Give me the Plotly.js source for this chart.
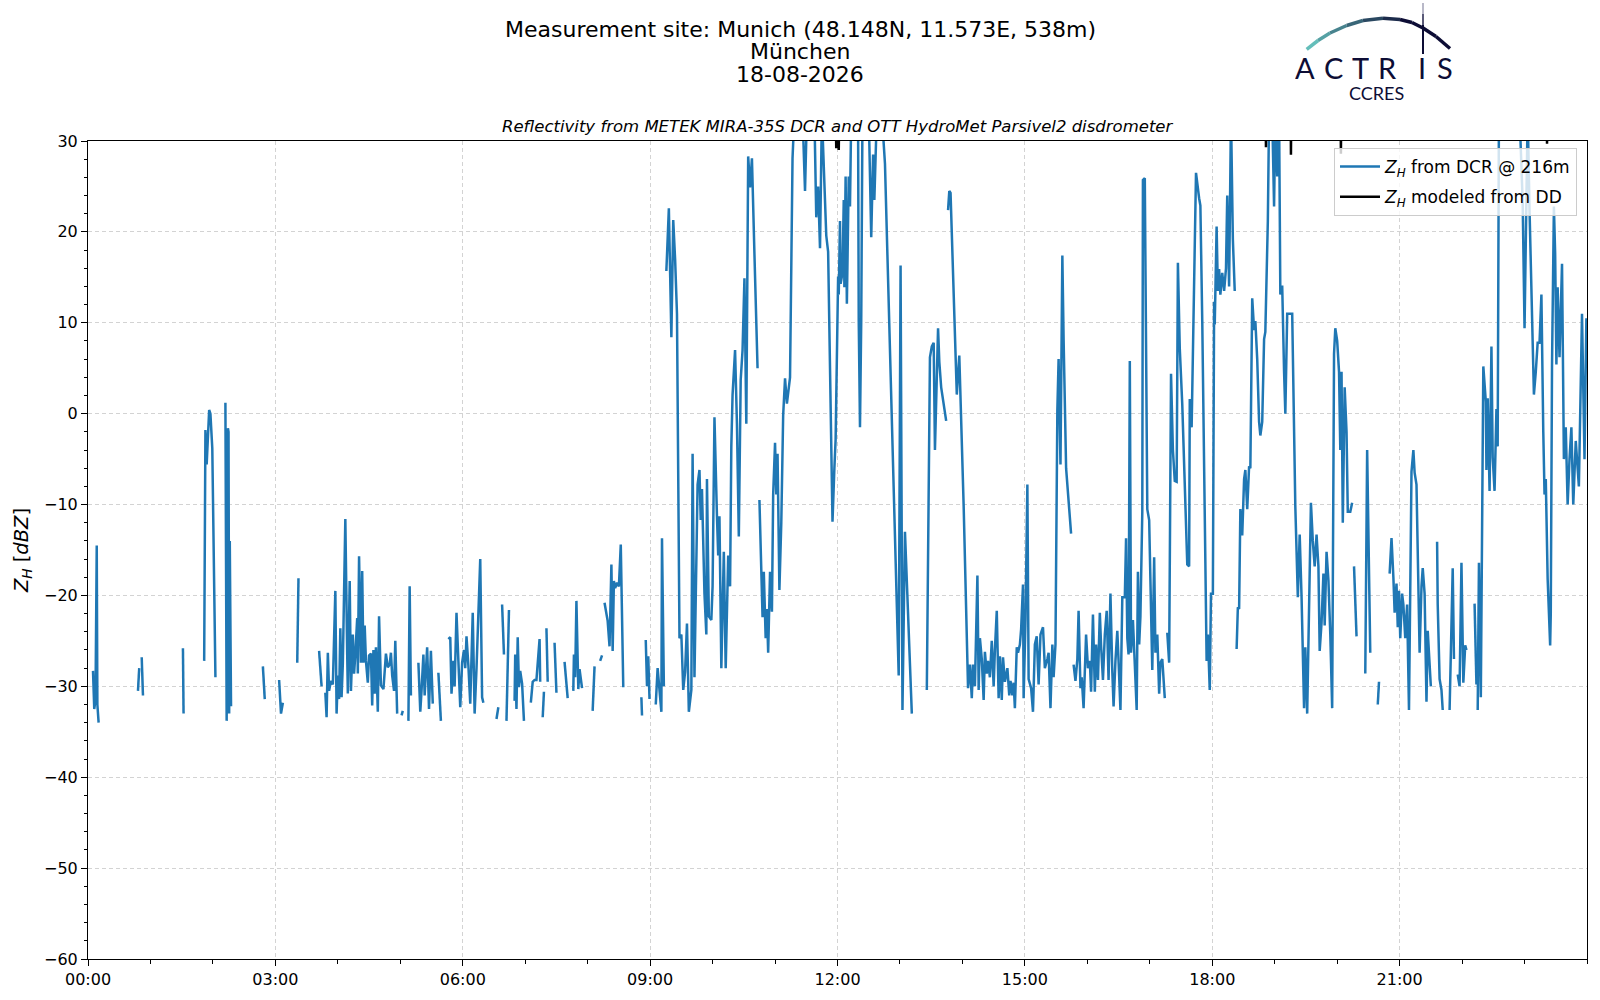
<!DOCTYPE html>
<html><head><meta charset="utf-8">
<script src="https://cdn.plot.ly/plotly-3.0.1.min.js"></script>
<style>html,body{margin:0;padding:0;background:#fff}#chart{width:1600px;height:1000px}</style>
</head><body><div id="chart"></div>
<script>
// ---- data (time in decimal hours of 18-08-2026, Z_H in dBZ; null = gap) ----
const hours = [
0.08,0.10,0.12,0.14,0.15,0.17,null,
0.80,0.82,null,0.86,0.88,null,1.52,1.53,null,
1.86,1.88,1.90,1.92,1.94,1.96,1.99,2.04,null,
2.20,2.22,2.24,2.25,2.26,2.27,2.29,null,
2.80,2.83,null,3.06,3.09,3.12,null,3.35,3.37,null,3.70,3.74,null,
3.80,3.82,3.84,3.86,3.89,3.92,3.96,3.98,4.00,4.02,4.04,4.06,4.08,4.12,4.15,4.16,4.19,4.21,4.24,4.26,4.28,4.31,4.32,4.34,4.37,4.39,4.41,4.43,4.45,4.48,4.50,4.53,4.55,4.57,4.59,4.61,4.64,4.66,4.69,4.73,
4.77,4.80,4.83,4.85,4.87,4.90,4.92,4.95,null,
5.02,5.04,null,5.13,5.15,5.17,null,
5.29,5.32,5.34,5.37,5.39,5.43,5.46,5.49,5.52,null,5.61,5.65,null,
5.77,5.80,5.82,5.85,5.87,5.90,5.93,5.96,5.99,6.02,6.04,6.06,6.09,6.12,6.16,6.19,6.22,6.28,6.31,6.33,null,
6.54,6.57,null,6.63,6.66,null,6.70,6.74,null,
6.83,6.84,6.86,6.88,6.90,6.92,6.95,6.98,null,
7.09,7.12,7.15,7.18,7.23,7.24,null,7.28,7.30,null,7.34,7.36,null,7.47,7.50,null,7.63,7.68,null,
7.77,7.78,7.80,7.82,7.85,7.87,7.91,null,8.08,8.11,null,8.20,8.23,null,
8.27,8.32,8.35,8.38,8.40,8.42,8.44,8.47,8.50,8.53,8.57,null,
8.86,8.87,null,8.93,8.95,8.97,8.99,null,9.09,9.12,9.18,9.19,9.22,null,
9.26,9.30,9.34,9.37,9.40,9.43,9.47,9.50,9.53,9.56,9.59,9.62,9.66,9.68,9.71,9.74,9.76,9.79,9.81,9.83,9.87,9.90,9.91,9.94,9.98,10.00,10.03,10.07,10.09,10.11,10.14,10.18,10.21,
10.25,10.28,10.30,10.32,10.36,10.39,10.42,10.45,10.48,10.51,10.54,10.57,10.60,10.63,10.67,10.72,null,
10.75,10.78,10.80,10.82,10.85,10.87,10.89,10.92,10.95,10.97,11.00,11.02,11.04,11.07,11.10,11.13,11.16,11.19,11.24,11.28,11.31,11.36,11.40,11.44,11.48,11.51,11.57,11.63,11.66,11.69,11.72,11.75,11.79,11.82,11.85,
11.92,11.95,11.97,12.01,12.02,12.04,12.05,12.08,12.10,12.11,12.13,12.15,12.18,12.20,12.22,12.28,12.33,12.34,12.36,12.38,12.40,12.44,12.50,12.54,12.57,12.59,12.63,12.70,12.76,12.98,13.01,13.04,13.08,13.19,null,
13.43,13.48,13.51,13.54,13.56,13.61,13.63,13.66,13.74,null,
13.77,13.79,13.81,13.84,13.87,13.91,13.95,13.99,14.02,14.09,14.12,14.15,14.17,14.20,14.24,14.26,14.28,14.31,14.34,14.36,14.39,14.41,14.44,14.47,14.50,14.52,14.55,14.58,14.60,14.63,14.65,14.68,14.72,14.75,
14.77,14.80,14.82,14.84,14.87,14.89,14.92,14.94,14.97,14.98,15.01,15.04,15.06,15.10,15.13,15.16,15.19,15.22,15.25,15.29,15.32,15.36,15.38,15.41,15.44,15.46,15.49,15.52,15.54,15.57,15.60,15.62,15.66,15.74,null,
15.78,15.81,15.84,15.86,15.89,15.91,15.94,15.98,16.01,16.04,16.06,16.09,16.12,16.14,16.17,16.20,16.22,16.25,16.28,16.31,16.34,16.37,16.40,16.42,16.45,16.48,16.50,16.53,16.56,16.60,16.62,16.64,16.66,16.68,16.70,16.73,16.76,16.79,16.81,16.83,16.85,16.88,16.89,16.92,16.96,16.99,17.04,17.07,17.09,17.12,17.15,17.17,17.20,17.24,null,
17.28,17.31,17.34,17.37,17.40,17.43,17.45,17.48,17.52,17.56,17.60,17.63,17.64,17.67,17.71,17.73,17.74,17.79,17.81,17.84,17.88,17.91,17.93,17.96,17.98,18.01,18.03,18.04,18.07,18.09,18.11,18.13,18.16,18.19,18.22,18.24,18.27,18.30,18.33,18.36,null,
18.39,18.41,18.43,18.45,18.48,18.51,18.53,18.56,18.59,18.61,18.64,18.67,18.69,18.72,18.75,18.77,18.80,18.83,18.85,18.89,18.91,18.96,18.99,19.01,19.04,19.07,19.09,19.12,19.15,19.17,19.20,19.25,19.28,19.33,19.37,19.40,19.43,19.47,19.49,19.52,19.55,19.58,19.61,19.64,19.67,19.70,19.72,19.75,19.78,19.80,19.83,19.86,19.89,19.92,19.95,19.97,20.00,20.03,20.05,20.07,20.09,20.12,20.15,20.17,20.21,20.24,null,
20.27,20.31,null,20.45,20.48,20.53,null,20.65,20.67,null,
20.84,20.87,20.90,20.92,20.95,20.97,20.99,21.01,21.04,21.06,21.09,21.12,21.15,21.19,21.22,21.24,21.27,21.29,21.32,21.35,21.37,21.40,21.43,21.45,21.48,21.50,null,
21.60,21.61,21.64,21.67,21.69,null,21.80,21.85,21.87,null,21.93,21.96,21.99,22.02,22.05,22.07,null,22.20,22.23,null,
22.25,22.27,22.30,22.32,22.34,22.38,22.39,22.41,22.44,22.47,22.49,22.52,22.55,22.57,22.59,22.65,22.72,22.80,22.88,22.92,22.97,23.00,23.03,23.05,23.08,23.12,23.15,23.18,23.21,23.24,23.27,23.30,23.32,23.34,23.37,23.41,23.42,23.44,23.47,23.49,23.51,23.53,23.56,23.60,23.63,23.66,23.69,23.72,23.75,23.78,23.82,23.87,23.92,23.96,23.99
];
const zhDcr = [
-28.3,-32.5,-31.5,-14.5,-32,-34,null,
-30.5,-28,null,-26.8,-31,null,-25.8,-33,null,
-27.2,-1.8,-5.6,-1.8,0.4,0,-3.8,-29,null,
1.2,-33.8,-1.6,-2,-33,-14,-32.2,null,
-27.8,-31.4,null,-29.3,-33,-31.8,null,-27.4,-18.1,null,-26.1,-30,null,
-30.7,-33.4,-26.3,-30.5,-29.4,-29.8,-19.5,-33,-28.8,-31.4,-23.6,-31.2,-27.5,-11.6,-26.5,-30.8,-18.4,-30.5,-24.3,-28.6,-26.5,-22.5,-28.6,-15.7,-27.4,-17.3,-27.4,-23.3,-27.2,-29.6,-26.6,-26.4,-32.1,-26,-30.8,-25.7,-32.8,-22.3,-29.9,-30.3,
-26.4,-27.9,-27.6,-26.3,-28.8,-30.5,-25,-33,null,
-33.2,-32.7,null,-33.8,-19,-31,null,
-27.4,-32.8,-30.5,-26.5,-31,-25.7,-32.5,-26.1,-31.9,null,-28.5,-33.8,null,
-24.8,-24.6,-30.8,-27.2,-30,-21.9,-27.2,-32.3,-27.4,-26,-28,-24.5,-27.7,-31.9,-21.9,-33,-28.1,-16,-31.2,-31.8,null,
-33.6,-32.3,null,-21,-26.5,null,-33.8,-21.6,null,
-31.6,-26.5,-32.5,-24.6,-30.1,-28.3,-29.7,-33.8,null,
-31.8,-29.5,-29.3,-29.3,-24.8,-29.5,null,-33.4,-30.6,null,-23.6,-29.5,null,-25.2,-30.7,null,-27.3,-31.3,null,
-30.5,-26.5,-29,-20.6,-30.3,-28.1,-30.2,null,-32.7,-27.8,null,-27.2,-26.6,null,
-20.8,-22.8,-25.6,-16.6,-26.1,-18.4,-19.2,-18.6,-19,-14.4,-30.1,null,
-31.2,-33.2,null,-24.9,-30,-26.7,-31.4,null,-32,-28,-32.8,-13.7,-30,null,
15.7,22.6,8.4,21.3,17,11,-24.7,-24.3,-30.4,-28.4,-23.1,-32.8,-30.4,-4.4,-29,-14.3,-7.8,-6.2,-11.7,-8.3,-19.8,-24.3,-7.2,-22.3,-22.7,-19,-0.4,-11.3,-15.6,-11.3,-28,-15.2,-28,
-15.6,-19,-3.6,2.1,7,-1.1,-13.5,3.7,7,14.9,-1.1,28.3,24.9,28.1,17.6,5,null,
-9.5,-17.4,-22.4,-17.4,-24.7,-21.5,-26.3,-17.4,-21.8,-8.9,-3.2,-8.9,-4.4,-19.4,-12,-0.2,3.9,1.1,4,28.1,33,33,31,33,24.5,33,34,33,21.6,25,18.2,33,25.3,19.6,17.8,
-11.9,-6,-2.8,15.1,13.1,21.2,14.3,15.5,23.5,13.9,26.1,12.1,26.1,22.8,33,34,31,10.2,-1.5,10.2,33,33,33,19.4,28.5,23.5,33,34,27.5,-28.8,16.3,-32.6,-13,-33,null,
-30.4,6.2,7.4,7.8,-4,9.4,5.7,2.9,-0.8,null,
22.4,24.5,24.3,18,10.2,2.1,6.4,-2,-10.2,-30.2,-27.6,-31.3,-27.6,-30,-17.8,-30.4,-24.7,-27,-31.5,-26.2,-28.6,-27.2,-29,-25,-30,-26,-21.7,-31.3,-26.7,-31.5,-26.8,-29.5,-28,-31,
-29.4,-31,-29.6,-32.4,-25.7,-26.3,-25.4,-23.7,-18.8,-31.3,-22.7,-7.8,-29.2,-30.2,-32.8,-25.4,-24.5,-29.8,-24.3,-23.5,-28,-27,-26.3,-32.4,-25.4,-29,-25.4,0.4,6,-5.6,17.4,8.2,-6,-13.2,null,
-27.6,-29.4,-27,-21.7,-30.2,-29,-32.4,-24.3,-28,-27.2,-30.6,-22.1,-30.6,-25.4,-29.3,-21.9,-25.5,-29.3,-24.3,-21.7,-29.3,-19.8,-28.4,-32.2,-27.2,-23.9,-27.2,-32.6,-20.2,-20.2,-13.7,-24.7,-26.5,5.8,-26.3,-22.7,-27.6,-32.6,-17.4,-25.4,-22.3,-10.8,25.7,25.9,-10.5,-11.7,-28.2,-15.8,-26.3,-24.3,-30.8,-27.4,-27,-31.3,null,
-24.1,-27.4,4.4,-4,-7.4,-7.5,16.6,7.2,1,-9,-16.6,-16.8,1.6,-1.5,14,23.5,26.5,23.7,22.9,10.2,-10.2,-27.2,-24.3,-30.4,-19.8,-19.8,12.3,9.8,20.6,13.5,15.9,13.1,15.5,13.5,16,24,14,33,19.2,13.5,null,
-25.9,-21.3,-21.5,-10.5,-13.4,-7.2,-6.2,-10.5,-5.8,-6,12.7,9.2,10.2,6,-0.9,-2.4,-0.9,8.2,9,21.2,33,33,22.8,33,26.1,33,13.1,14.1,4.6,0,11,11,11,-10.2,-20.2,-13.3,-20.2,-32.4,-25.7,-33,-21.5,-9.8,-14,-16.8,-13.3,-16.8,-26.1,-23,-17.6,-23.3,-15.2,-18.3,-24.3,-32.4,6.6,9.4,8,4.6,-4,4.6,-12,2.9,-2,-10.8,-10.8,-9.8,null,
-16.8,-24.5,null,-28.6,-4,-26.3,null,-32,-29.5,null,
-17.6,-13.7,-18,-21.9,-18.7,-23.5,-19.5,-24.7,-19.8,-21,-24.7,-21,-32.6,-6.4,-4,-6.5,-7.8,-16.2,-26.3,-19,-17,-19.8,-31.7,-23.9,-28,-30,null,
-14.1,-21,-29.2,-30.4,-32.6,null,-32.6,-17,-27,null,-28.7,-30,-16.4,-29.6,-25.5,-26,null,-20.9,-29.8,null,
-32.6,-16.4,-31.2,-16,5.2,1.3,-6.2,1.7,-8.5,7.4,-4.8,-8.5,0.5,-3.6,33,34,33,34,33,33,23.3,9.4,25,33,22.4,12.3,2.1,4.6,7.8,7.8,13.1,-2,-8.9,-7.2,-18.2,-25.5,-22,5.4,22.8,17.6,5.4,13.9,6.2,16.5,-5,-1.5,-10,-5,-1.5,-10,-3,-8,11,-5,10.5
];
// modeled Z_H from disdrometer: almost always above the 30 dBZ top of the axis
const ddHours = [11.90,11.97,11.98,11.99,12.01,12.02,12.03,12.10,null,18.80,18.855,18.86,18.865,19.255,19.26,19.265,20.055,20.06,20.065,20.20,null,23.30,23.355,23.36,23.365,23.40];
const zhDd    = [36,34,29.2,34,34,29,34,36,null,36,34,29.3,34,34,28.5,34,34,28.6,34,36,null,36,34,29.7,34,36];

const xTickVals = [0,3,6,9,12,15,18,21];
const xTickText = ["00:00","03:00","06:00","09:00","12:00","15:00","18:00","21:00"];
const titleLines = ["Measurement site: Munich (48.148N, 11.573E, 538m)","München","18-08-2026"];
const subTitle = "Reflectivity from METEK MIRA-35S DCR and OTT HydroMet Parsivel2 disdrometer";

// ---- layout helpers (page pixels -> paper coords) ----
const PL=88, PR=1587, PT=141, PB=959;
const px = x => (x-PL)/(PR-PL);
const py = y => (PB-y)/(PB-PT);
const FONT = "DejaVu Sans";

const traces = [
  {x: hours, y: zhDcr, type:'scatter', mode:'lines', connectgaps:false, legendgroup:'dcr',
   name:'<i>Z</i><sub><i>H</i></sub> from DCR @ 216m', line:{color:'#1f77b4', width:2.5}},
  {x: ddHours, y: zhDd, type:'scatter', mode:'lines', connectgaps:false, legendgroup:'dd',
   name:'<i>Z</i><sub><i>H</i></sub> modeled from DD', line:{color:'#000000', width:2.5}}
];

const annotations = [];
[29,51,74].forEach((yy,i)=>annotations.push({xref:'paper',yref:'paper',x:px(800),y:py(yy),xanchor:'center',yanchor:'middle',
  showarrow:false,text:titleLines[i],font:{family:FONT,size:22,color:'#000'}}));
annotations.push({xref:'paper',yref:'paper',x:0.5,y:py(126),xanchor:'center',yanchor:'middle',showarrow:false,
  text:'<i>'+subTitle+'</i>',font:{family:FONT,size:16.5,color:'#000'}});
// logo text
const logoLetters = ['A','C','T','R','I','S'];
const logoX = [1305,1333,1360,1387,1422,1445];
logoLetters.forEach((l,i)=>annotations.push({xref:'paper',yref:'paper',x:px(logoX[i]),y:py(67),xanchor:'center',yanchor:'middle',
  height:24, showarrow:false,text:l,font:{family:'Lato',size:29,color:'#0d0d35'}}));
annotations.push({xref:'paper',yref:'paper',x:px(1376),y:py(93),xanchor:'center',yanchor:'middle',height:18,showarrow:false,
  text:'CCRES',font:{family:'Lato',size:18,color:'#0d0d35'}});

// logo arc (gradient approximated by segments)
const arcPts = [[1306.7,49.3],[1318,40.5],[1330,33],[1346.7,25.5],[1363,20.5],[1383,18.3],[1400,19.5],[1412,22.5],[1423,28],[1436,36.5],[1450,48.5]];
const c0=[100,190,186], c1=[13,13,53];
const shapes = [];
for(let i=0;i<arcPts.length-1;i++){
  const t = Math.min(1, i/6);
  const c = c0.map((v,k)=>Math.round(v+(c1[k]-v)*t));
  shapes.push({type:'line',xref:'paper',yref:'paper',x0:px(arcPts[i][0]),y0:py(arcPts[i][1]),x1:px(arcPts[i+1][0]),y1:py(arcPts[i+1][1]),
    line:{color:`rgb(${c[0]},${c[1]},${c[2]})`,width:3.5}});
}
const vSeg = [[3,14,'#b8b8c8'],[14,25,'#5a5a78'],[25,54,'#0d0d35']];
vSeg.forEach(s=>shapes.push({type:'line',xref:'paper',yref:'paper',x0:px(1423),y0:py(s[0]),x1:px(1423),y1:py(s[1]),line:{color:s[2],width:2}}));

const axisCommon = {
  showline:true, linecolor:'#000', linewidth:1, mirror:true,
  ticks:'outside', ticklen:6, tickwidth:1, tickcolor:'#000',
  showgrid:true, gridcolor:'#d3d3d3', griddash:'4px,3px', gridwidth:1,
  zeroline:false, tickfont:{family:FONT,size:16,color:'#000'}
};

const layout = {
  width:1600, height:1000,
  margin:{l:PL, r:1600-PR, t:PT, b:1000-PB, pad:0},
  paper_bgcolor:'#fff', plot_bgcolor:'#fff',
  showlegend:true,
  legend:{x:px(1577),y:py(148),xanchor:'right',yanchor:'top',bgcolor:'rgba(255,255,255,0.8)',
          bordercolor:'#cccccc',borderwidth:1,font:{family:FONT,size:17,color:'#000'},
          itemwidth:40, tracegroupgap:5},
  xaxis: Object.assign({}, axisCommon, {range:[0,24], tickmode:'array', tickvals:xTickVals, ticktext:xTickText,
    minor:{tickmode:'linear',tick0:0,dtick:1,ticks:'outside',ticklen:3.5,tickcolor:'#000',showgrid:false}}),
  yaxis: Object.assign({}, axisCommon, {range:[-60,30], tickmode:'linear', tick0:0, dtick:10,
    minor:{tickmode:'linear',tick0:0,dtick:2,ticks:'outside',ticklen:3.5,tickcolor:'#000',showgrid:false},
    title:{text:'<i>Z</i><sub><i>H</i></sub> [<i>dBZ</i>]', font:{family:FONT,size:19.5,color:'#000'}, standoff:10}}),
  annotations: annotations,
  shapes: shapes
};

Plotly.newPlot('chart', traces, layout, {displayModeBar:false, staticPlot:true});
</script>
</body></html>
